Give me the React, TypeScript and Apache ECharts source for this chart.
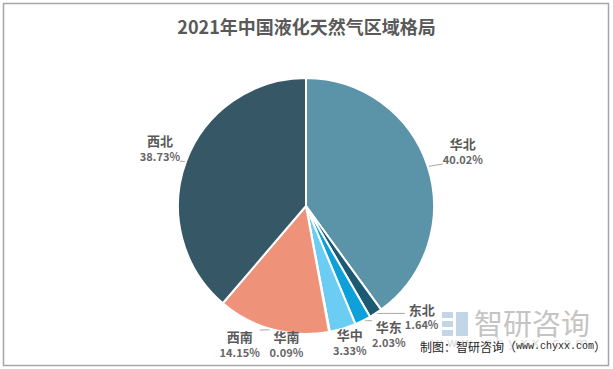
import React, { useEffect, useRef } from "react";
import * as echarts from "echarts";

const categories = ["华北", "东北", "华东", "华中", "华南", "西南", "西北"];
const values = [40.02, 1.64, 2.03, 3.33, 0.09, 14.15, 38.73];
const colors = ["#5B93A9", "#1B5A72", "#0DA0D9", "#6BCDF3", "#B0B0B0", "#EF927A", "#365765"];
const titleText = "2021年中国液化天然气区域格局";
const sourcePrefix = "制图：智研咨询（";
const sourceUrl = "www.chyxx.com";
const sourceSuffix = "）";

// label placement offsets (label centre relative to the slice's outer-edge midpoint)
const labelOffsets: [number, number][] = [
  [35, -16],
  [46, 3],
  [26, 13],
  [7, 13],
  [-43, 12],
  [-33, 14],
  [-26, -14],
];

const CX = 306;
const CY = 206;
const R = 128;

export default function App() {
  const ref = useRef<HTMLDivElement>(null);
  useEffect(() => {
    document.body.style.margin = "0";
    const chart = echarts.init(ref.current!, null, { renderer: "svg" });
    const total = values.reduce((a, b) => a + b, 0);
    const mids: number[] = [];
    let acc = 0;
    values.forEach((v) => {
      mids.push(((acc + v / 2) / total) * Math.PI * 2);
      acc += v;
    });

    chart.setOption({
      animation: false,
      backgroundColor: "#fff",
      title: {
        text: titleText,
        left: "center",
        top: 12,
        textStyle: { fontSize: 18, fontWeight: "bold", color: "#595959", fontFamily: "Noto Sans CJK SC" },
      },
      graphic: [
        {
          type: "rect",
          shape: { x: 3.5, y: 3.5, width: 605, height: 362 },
          style: { fill: "none", stroke: "#A6A6A6", lineWidth: 1.5 },
          silent: true,
        },
        {
          type: "group",
          x: 442,
          y: 312,
          silent: true,
          children: [
            { type: "rect", shape: { x: 0, y: 0, width: 11, height: 6 }, style: { fill: "#A9C4DE", opacity: 0.7 } },
            { type: "rect", shape: { x: 0, y: 9, width: 11, height: 6 }, style: { fill: "#A9C4DE", opacity: 0.7 } },
            { type: "rect", shape: { x: 0, y: 18, width: 11, height: 6 }, style: { fill: "#A9C4DE", opacity: 0.7 } },
            { type: "rect", shape: { x: 14, y: 0, width: 12, height: 24 }, style: { fill: "#A9C4DE", opacity: 0.7 } },
            {
              type: "text",
              x: 32,
              y: -5,
              style: { text: "智研咨询", fontSize: 29, fill: "#C4C4C4", fontFamily: "Noto Sans CJK SC" },
            },
            {
              type: "text",
              x: -10,
              y: 24,
              style: { text: "w w w . c h y x x . c o m", fontSize: 13, fill: "#DCDCDC", fontFamily: "DejaVu Sans" },
            },
          ],
        },
        {
          type: "text",
          x: 420,
          y: 340,
          silent: true,
          style: {
            text: `{a|${sourcePrefix}}{b|${sourceUrl}}{a|${sourceSuffix}}`,
            rich: {
              a: { fontSize: 12, fill: "#262626", fontFamily: "Noto Sans CJK SC" },
              b: { fontSize: 10, fill: "#262626", fontFamily: "Liberation Mono" },
            },
          },
        },
      ],
      series: [
        {
          type: "pie",
          center: [CX, CY],
          radius: [0, R],
          startAngle: 90,
          clockwise: true,
          color: colors,
          itemStyle: { borderColor: "#fff", borderWidth: 2 },
          data: categories.map((n, i) => ({ name: n, value: values[i] })),
          label: {
            formatter: (p: any) => `{n|${p.name}}\n{v|${p.value.toFixed(2)}%}`,
            rich: {
              n: { fontSize: 13, fontWeight: "bold", color: "#595959", lineHeight: 16, fontFamily: "Noto Sans CJK SC", align: "center" },
              v: { fontSize: 11, fontWeight: "bold", color: "#666666", lineHeight: 14, fontFamily: "Noto Sans CJK SC", align: "center" },
            },
          },
          labelLayout: (params: any) => {
            const i = params.dataIndex;
            const a = mids[i];
            const ex = CX + R * Math.sin(a);
            const ey = CY - R * Math.cos(a);
            const lx = ex + labelOffsets[i][0];
            const ly = ey + labelOffsets[i][1];
            const w = params.labelRect.width;
            const h = params.labelRect.height;
            const px = Math.min(Math.max(ex, lx - w / 2), lx + w / 2);
            const py = Math.min(Math.max(ey, ly - h / 2), ly + h / 2);
            return {
              x: lx,
              y: ly,
              align: "center",
              verticalAlign: "middle",
              labelLinePoints: [
                [ex, ey],
                [(ex + px) / 2, (ey + py) / 2],
                [px, py],
              ],
            };
          },
          labelLine: { length: 2, length2: 14, lineStyle: { color: "#A6A6A6", width: 1 } },
        },
      ],
    });
    return () => chart.dispose();
  }, []);
  return <div ref={ref} style={{ width: 613, height: 369 }} />;
}
